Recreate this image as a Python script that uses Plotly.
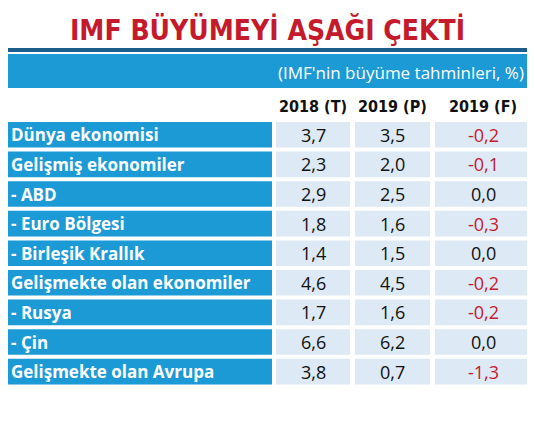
import plotly.graph_objects as go

# Data
rows = ["Dünya ekonomisi", "Gelişmiş ekonomiler", "- ABD", "- Euro Bölgesi",
        "- Birleşik Krallık", "Gelişmekte olan ekonomiler", "- Rusya", "- Çin",
        "Gelişmekte olan Avrupa"]
est_2018 = [3.7, 2.3, 2.9, 1.8, 1.4, 4.6, 1.7, 6.6, 3.8]
proj_2019 = [3.5, 2.0, 2.5, 1.6, 1.5, 4.5, 1.6, 6.2, 0.7]
diff_2019 = [-0.2, -0.1, 0.0, -0.3, 0.0, -0.2, -0.2, 0.0, -1.3]
col_headers = ["2018 (T)", "2019 (P)", "2019 (F)"]

BLUE = "#1b9ad6"
DARK = "#1c5d8c"
CELL = "#dde9f5"
RED = "#c41a2c"
W, H = 535, 435
OFF = 8  # page margin around the figure
COND = "DejaVu Sans Condensed"


def fmt(v):
    return "{:.1f}".format(v).replace(".", ",")


shapes = []
ann = []

ann.append(dict(x=W / 2, y=30, text="<b>IMF BÜYÜMEYİ AŞAĞI ÇEKTİ</b>", showarrow=False,
                font=dict(family=COND, size=28, color=RED)))
shapes.append(dict(type="rect", x0=4, x1=531, y0=48, y1=52, fillcolor=DARK, line_width=0))
shapes.append(dict(type="rect", x0=4, x1=531, y0=54, y1=88, fillcolor=BLUE, line_width=0))
ann.append(dict(x=526, y=72, xanchor="right", text="(IMF'nin büyüme tahminleri, %)", showarrow=False,
                font=dict(family="Open Sans", size=17, color="white")))

cols = [(276, 350), (355, 430), (435, 531)]
for (x0, x1), h in zip(cols, col_headers):
    ann.append(dict(x=(x0 + x1) / 2, y=106, text="<b>" + h + "</b>", showarrow=False,
                    font=dict(family=COND, size=16, color="#111")))

top, step = 122, 29.6
for i, name in enumerate(rows):
    y0 = top + i * step
    y1 = y0 + step - 4
    ym = (y0 + y1) / 2
    shapes.append(dict(type="rect", x0=4, x1=272, y0=y0, y1=y1, fillcolor=BLUE, line_width=0))
    ann.append(dict(x=9, y=ym, xanchor="left", text="<b>" + name + "</b>", showarrow=False,
                    font=dict(family="Open Sans", size=17, color="white")))
    vals = [est_2018[i], proj_2019[i], diff_2019[i]]
    for j, ((x0, x1), v) in enumerate(zip(cols, vals)):
        shapes.append(dict(type="rect", x0=x0, x1=x1, y0=y0, y1=y1, fillcolor=CELL, line_width=0))
        color = RED if (j == 2 and v < 0) else "#111"
        ann.append(dict(x=(x0 + x1) / 2, y=ym, text=fmt(v), showarrow=False,
                        font=dict(family="Open Sans", size=18, color=color)))

ann.append(dict(x=4, y=398, xanchor="left", showarrow=False,
                text="<i>Kaynak: IMF, World Economic Outlook Update, January 2019</i>",
                font=dict(family="Open Sans", size=13, color="#111")))
ann.append(dict(x=4, y=414, xanchor="left", showarrow=False,
                text="<i>(T): Tahmin (P): Projeksiyon (F): Önceki projeksiyona göre puan olarak fark</i>",
                font=dict(family="Open Sans", size=13, color="#111")))

fig = go.Figure()
fig.update_layout(width=W, height=H, margin=dict(l=0, r=0, t=0, b=0),
                  plot_bgcolor="white", paper_bgcolor="white",
                  xaxis=dict(range=[OFF, W + OFF], visible=False, fixedrange=True),
                  yaxis=dict(range=[H + OFF, OFF], visible=False, fixedrange=True),
                  shapes=shapes, annotations=ann, showlegend=False)
fig.write_html("out.html")
